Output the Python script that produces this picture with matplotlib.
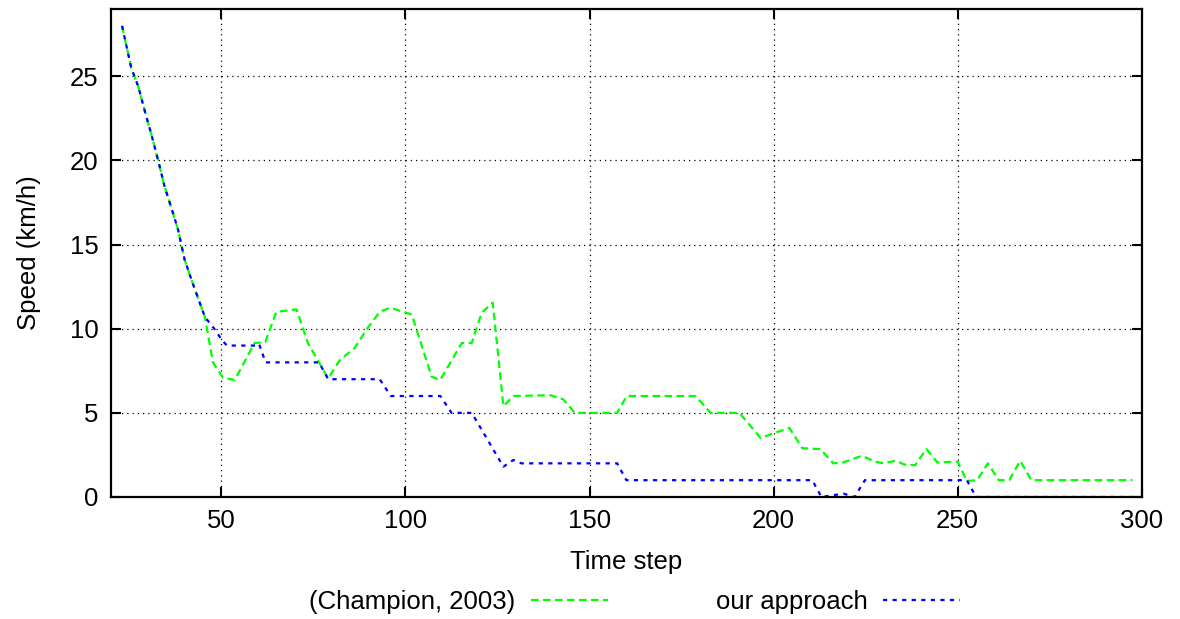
import matplotlib
matplotlib.use("Agg")
import matplotlib.pyplot as plt

plt.rcParams['font.family'] = ['Liberation Sans', 'DejaVu Sans']

# =========================
# DADOS
# =========================
# trecho inicial comum as duas curvas
inicio_t = [23, 25.5, 27.4, 29.6, 30.9, 32.7, 34.5, 36.8, 38.2, 40, 42.2, 45.5]
inicio_v = [28.0, 25.5, 24.4, 22.6, 21.6, 20.1, 18.5, 16.9, 15.9, 14.1, 12.7, 10.7]

champion_t = inicio_t + [
    47.7, 50.4, 53.6, 59, 61.9, 64.9, 70.4, 73.5, 79, 82.2, 86.2, 89.4, 93,
    95.8, 101.7, 107.1, 109.4, 115.3, 118, 120.7, 123.7, 126.6, 129.3, 139.3,
    142.9, 146, 157.5, 160.1, 178.8, 182.9, 190.7, 196.5, 200.1, 204.3, 207.8,
    212.7, 216.2, 218.8, 224, 227.5, 230, 233, 236, 238.5, 241.5, 244.5, 250,
    252.5, 255.3, 258.2, 261.2, 264, 267, 270, 297.5]
champion_v = inicio_v + [
    8.0, 7.1, 6.95, 9.15, 9.2, 11.0, 11.15, 9.15, 7.05, 8.15, 8.85, 9.95, 11.0,
    11.25, 10.85, 7.15, 6.95, 9.15, 9.15, 10.95, 11.55, 5.4, 6.0, 6.05,
    5.8, 5.0, 5.0, 6.0, 6.0, 5.0, 5.0, 3.5, 3.8, 4.1, 2.9,
    2.85, 2.0, 2.05, 2.45, 2.1, 2.0, 2.15, 1.9, 1.9, 2.85, 2.05, 2.1,
    0.95, 1.0, 2.0, 1.0, 1.0, 2.15, 1.0, 1.0]

nosso_t = inicio_t + [
    48.6, 50, 51.5, 59.5, 60.2, 62, 76.5, 79, 93, 96, 109.5, 112.5, 118,
    126.6, 129.3, 131.5, 157.5, 160, 210.5, 213, 219, 222, 224.8, 252.5,
    255, 297.5]
nosso_v = inicio_v + [
    9.85, 9.35, 9.0, 9.0, 9.1, 8.0, 8.0, 7.0, 7.0, 6.0, 6.0, 5.0, 5.0,
    1.8, 2.2, 2.0, 2.0, 1.0, 1.0, 0.0, 0.2, 0.0, 1.0, 1.0,
    0.0, 0.0]

rotulos = ["(Champion, 2003)", "our approach"]
x_ticks = [50, 100, 150, 200, 250, 300]
y_ticks = [0, 5, 10, 15, 20, 25]

# =========================
# FIGURA
# =========================
fig = plt.figure(figsize=(11.8, 6.19), dpi=100)
ax = fig.add_axes([111 / 1180, 122 / 619, (1141.7 - 111) / 1180, 488 / 619])

l1, = ax.plot(champion_t, champion_v, color='#00ff00', lw=1.6,
              linestyle=(0, (3.4, 2.0)), label=rotulos[0])
l2, = ax.plot(nosso_t, nosso_v, color='#0000ff', lw=1.6,
              linestyle=(0, (1.9, 2.4)), label=rotulos[1])

ax.set_xlim(20, 300)
ax.set_ylim(0, 29)
ax.set_xticks(x_ticks)
ax.set_yticks(y_ticks)

ax.grid(True, color='black', lw=0.9, linestyle=(0, (1, 3.2)))
for s in ax.spines.values():
    s.set_linewidth(1.6)
ax.tick_params(direction='in', length=7.5, width=1.5, labelsize=18.5,
               top=True, right=True, pad=9)

ax.set_xlabel("Time step", fontsize=18.5, labelpad=12)
ax.set_ylabel("Speed (km/h)", fontsize=18.5, labelpad=21)

fig.legend(handles=[l1, l2], loc='center', bbox_to_anchor=(0.5377, 0.0275),
           ncol=2, frameon=False, fontsize=18.5, markerfirst=False,
           handlelength=3.0, handletextpad=0.6, columnspacing=4.2,
           borderpad=0)

fig.savefig("out.png", dpi=100)
